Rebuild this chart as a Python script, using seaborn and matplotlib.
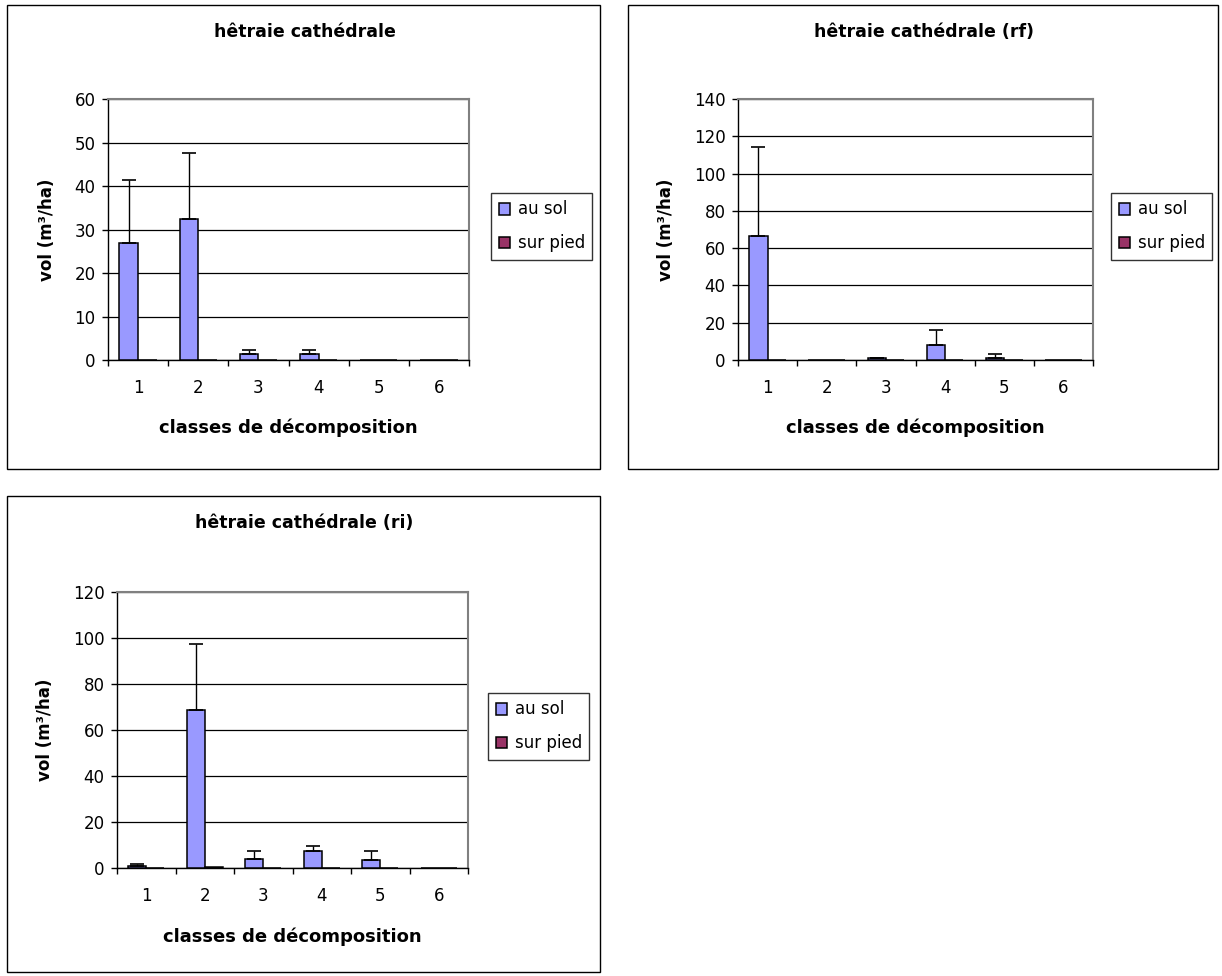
import numpy as np
import pandas as pd
import matplotlib
matplotlib.use("Agg")
import matplotlib.pyplot as plt
from matplotlib.patches import Rectangle
import seaborn as sns

# Decay classes and series
classes = ["1", "2", "3", "4", "5", "6"]
series = ["au sol", "sur pied"]

# hêtraie cathédrale
hc_sol = [26.8, 32.4, 1.4, 1.4, 0.0, 0.0]
hc_sol_err = [14.5, 15.3, 0.8, 0.8, 0.0, 0.0]
hc_pied = [0.0, 0.0, 0.0, 0.0, 0.0, 0.0]

# hêtraie cathédrale (rf)
rf_sol = [66.4, 0.0, 1.0, 8.0, 1.2, 0.0]
rf_sol_err = [47.9, 0.0, 0.2, 8.1, 1.8, 0.0]
rf_pied = [0.0, 0.0, 0.0, 0.0, 0.0, 0.0]

# hêtraie cathédrale (ri)
ri_sol = [0.9, 68.5, 4.0, 7.4, 3.3, 0.0]
ri_sol_err = [0.7, 29.0, 3.2, 2.2, 3.9, 0.0]
ri_pied = [0.0, 0.5, 0.0, 0.0, 0.0, 0.0]

titles = ["hêtraie cathédrale", "hêtraie cathédrale (rf)", "hêtraie cathédrale (ri)"]
y_max = [60, 140, 120]
y_step = [10, 20, 20]

colors = {"au sol": "#9999FF", "sur pied": "#993366"}

sns.set_theme(style="white")
plt.rcParams["font.family"] = ["DejaVu Sans"]
plt.rcParams["text.color"] = "black"
plt.rcParams["axes.labelcolor"] = "black"
plt.rcParams["xtick.color"] = "black"
plt.rcParams["ytick.color"] = "black"

W, H = 1222, 976
fig = plt.figure(figsize=(W / 100, H / 100), dpi=100)
fig.patch.set_facecolor("white")


def fx(px):
    return px / W


def fy(py):
    return 1 - py / H


# pixel layout for each chart: frame, plot area, legend, title, label positions
layouts = [
    dict(frame=(7, 5, 600, 469), plot=(108, 99, 469, 360), leg=(491, 193),
         title=(305, 32), xlab_y=428, ylab_x=47),
    dict(frame=(628, 5, 1218, 469), plot=(738, 99, 1093, 360), leg=(1111, 193),
         title=(924, 32), xlab_y=428, ylab_x=666),
    dict(frame=(7, 496, 600, 972), plot=(117, 592, 468, 868), leg=(488, 693),
         title=(304, 523), xlab_y=937, ylab_x=45),
]

data_sets = [
    (hc_sol, hc_sol_err, hc_pied),
    (rf_sol, rf_sol_err, rf_pied),
    (ri_sol, ri_sol_err, ri_pied),
]

for i, (lay, (sol, sol_err, pied)) in enumerate(zip(layouts, data_sets)):
    fl, ft, fr, fb = lay["frame"]
    fig.patches.append(Rectangle((fx(fl), fy(fb)), fx(fr - fl), (fb - ft) / H,
                                 transform=fig.transFigure, fill=False,
                                 edgecolor="black", linewidth=1.0, zorder=0))

    pl, pt, pr, pb = lay["plot"]
    ax = fig.add_axes([fx(pl), fy(pb), fx(pr - pl), (pb - pt) / H])

    df = pd.DataFrame({
        "classe": classes * 2,
        "serie": [series[0]] * 6 + [series[1]] * 6,
        "vol": list(sol) + list(pied),
    })
    sns.barplot(data=df, x="classe", y="vol", hue="serie", order=classes,
                hue_order=series, palette=colors, saturation=1, width=0.62,
                ax=ax, edgecolor="black", linewidth=1.1, errorbar=None,
                legend=True, zorder=3)

    # positive error bars on the "au sol" bars
    bars = ax.containers[0]
    xs = [p.get_x() + p.get_width() / 2 for p in bars]
    ys = [p.get_height() for p in bars]
    sel = [k for k, e in enumerate(sol_err) if e > 0]
    ax.errorbar([xs[k] for k in sel], [ys[k] for k in sel],
                yerr=[[0] * len(sel), [sol_err[k] for k in sel]],
                fmt="none", ecolor="black", elinewidth=1.0, capsize=5,
                capthick=1.2, zorder=4)

    ax.set_xlim(-0.5, 5.5)
    ax.set_ylim(0, y_max[i])
    ax.set_yticks(np.arange(0, y_max[i] + 1, y_step[i]))
    ax.yaxis.grid(True, color="black", linewidth=0.9)
    ax.set_axisbelow(True)
    ax.set_xticks(np.arange(-0.5, 6.0, 1.0), minor=True)
    ax.tick_params(axis="x", which="major", length=0, pad=14, labelsize=12)
    ax.tick_params(axis="x", which="minor", length=4, width=1.0, color="black",
                   direction="out", bottom=True)
    ax.tick_params(axis="y", which="major", length=4, width=1.0, color="black",
                   direction="out", left=True, labelsize=12, pad=5)

    for side in ("top", "right"):
        ax.spines[side].set_color("#808080")
        ax.spines[side].set_linewidth(1.5)
    for side in ("left", "bottom"):
        ax.spines[side].set_color("black")
        ax.spines[side].set_linewidth(1.0)

    ax.set_xlabel("classes de décomposition", fontsize=13, fontweight="bold")
    ax.set_ylabel("vol (m³/ha)", fontsize=12, fontweight="bold")
    ax.xaxis.set_label_coords((pl + pr) / 2 / W, fy(lay["xlab_y"]),
                              transform=fig.transFigure)
    ax.xaxis.label.set_va("center")
    ax.yaxis.set_label_coords(fx(lay["ylab_x"]), fy((pt + pb) / 2),
                              transform=fig.transFigure)
    ax.yaxis.label.set_va("center")

    fig.text(fx(lay["title"][0]), fy(lay["title"][1]), titles[i],
             fontsize=12.5, fontweight="bold", ha="center", va="center")

    handles, labels = ax.get_legend_handles_labels()
    ax.legend(handles, labels, loc="upper left",
              bbox_to_anchor=(fx(lay["leg"][0]), fy(lay["leg"][1])),
              bbox_transform=fig.transFigure, frameon=True, fancybox=False,
              edgecolor="black", fontsize=12, handlelength=0.7,
              handleheight=0.7, handletextpad=0.45, labelspacing=0.95,
              borderpad=0.45, borderaxespad=0, title=None)
    ax.get_legend().get_frame().set_linewidth(1.0)

fig.savefig("out.png", dpi=100, facecolor="white")
